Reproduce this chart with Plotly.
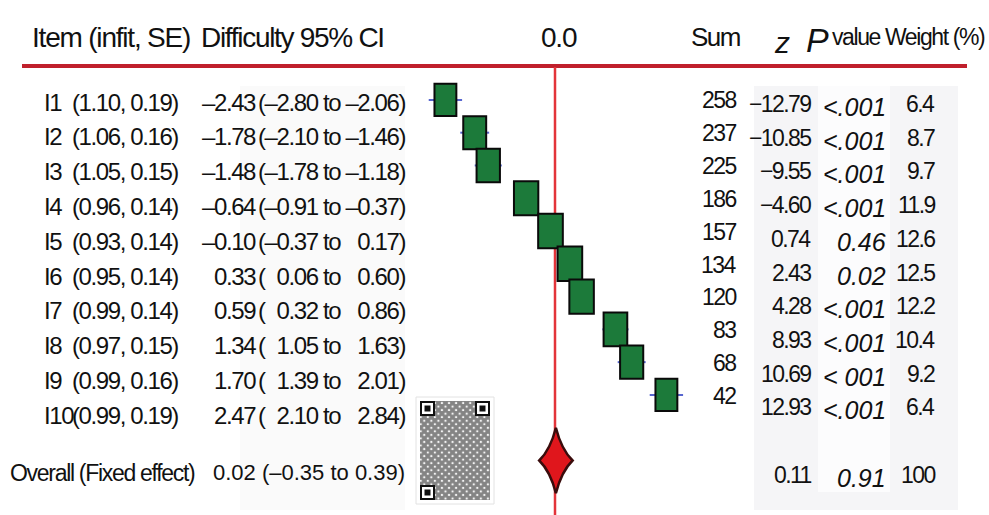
import plotly.graph_objects as go

# ---------------- data ----------------
items = ["I1", "I2", "I3", "I4", "I5", "I6", "I7", "I8", "I9", "I10"]
infit = ["1.10", "1.06", "1.05", "0.96", "0.93", "0.95", "0.99", "0.97", "0.99", "0.99"]
se = ["0.19", "0.16", "0.15", "0.14", "0.14", "0.14", "0.14", "0.15", "0.16", "0.19"]
difficulty = [-2.43, -1.78, -1.48, -0.64, -0.10, 0.33, 0.59, 1.34, 1.70, 2.47]
ci_low = [-2.80, -2.10, -1.78, -0.91, -0.37, 0.06, 0.32, 1.05, 1.39, 2.10]
ci_high = [-2.06, -1.46, -1.18, -0.37, 0.17, 0.60, 0.86, 1.63, 2.01, 2.84]
sums = [258, 237, 225, 186, 157, 134, 120, 83, 68, 42]
z_values = [-12.79, -10.85, -9.55, -4.60, 0.74, 2.43, 4.28, 8.93, 10.69, 12.93]
p_labels = ["<.001", "<.001", "<.001", "<.001", "0.46", "0.02", "<.001", "<.001", "< 001", "<.001"]
weights = [6.4, 8.7, 9.7, 11.9, 12.6, 12.5, 12.2, 10.4, 9.2, 6.4]

overall_label = "Overall (Fixed effect)"
overall_est, overall_low, overall_high = 0.02, -0.35, 0.39
overall_z = 0.11
overall_p = "0.91"
overall_weight = 100

# ---------------- layout constants ----------------
W, H = 989, 515
SANS = "Liberation Sans, Arial, sans-serif"
INK = "#111111"
RED_RULE = "#c0202c"
RED_ZERO = "#e3343a"
GREEN = "#1c7a3a"
WHISKER = "#5766cf"
FIG_SPACE = "\u2007"     # digit-wide space keeps the CI columns aligned

PX_PER_UNIT = 45.1      # pixels per logit on the difficulty axis
ZERO_PX = 555           # pixel column of difficulty 0.0
ROW_PX = 32.78          # pixel height of one row of the plot panel
FIRST_ROW_PX = 99.9


def px(x):
    return x / W


def py(y):
    return 1 - y / H


def rows_axis(first_px, step):
    """Reversed axis range so row 0 sits at first_px and rows advance by step pixels."""
    return [(H - first_px) / step, -first_px / step]


def dash(v, sign="\u2013"):
    return f"{v:.2f}".replace("-", sign)


def padded(v):
    s = dash(v)
    return s if v < 0 else FIG_SPACE + s


n = len(items)
overall_row = 11         # overall estimate sits one blank row below the items

fig = go.Figure()

# invisible traces so every helper axis exists
for ya in ["y", "y2", "y3", "y4"]:
    fig.add_trace(go.Scatter(x=[None], y=[None], yaxis=ya, xaxis="x",
                             showlegend=False, hoverinfo="skip"))

# QR-style code block (texture on a pixel-space axis pair)
qr_x0, qr_x1, qr_y0, qr_y1 = 420, 490, 401, 500
fig.add_trace(go.Scatter(
    x=[qr_x0, qr_x1, qr_x1, qr_x0, qr_x0], y=[qr_y0, qr_y0, qr_y1, qr_y1, qr_y0],
    xaxis="x2", yaxis="y5", mode="lines", line=dict(width=0),
    fill="toself", fillcolor="white",
    fillpattern=dict(shape="x", fgcolor="#0a0a0a", bgcolor="white", size=5, solidity=0.85),
    showlegend=False, hoverinfo="skip"))

shapes = []

# faint table panels
shapes.append(dict(type="rect", xref="paper", yref="paper", layer="below",
                   x0=px(754), x1=px(958), y0=py(510), y1=py(86),
                   fillcolor="#f5f5f7", line=dict(width=0)))
shapes.append(dict(type="rect", xref="paper", yref="paper", layer="below",
                   x0=px(818), x1=px(890), y0=py(492), y1=py(86),
                   fillcolor="#fcfcfd", line=dict(width=0)))
shapes.append(dict(type="rect", xref="paper", yref="paper", layer="below",
                   x0=px(240), x1=px(405), y0=py(510), y1=py(86),
                   fillcolor="#fafafa", line=dict(width=0)))

# header rule and zero line
shapes.append(dict(type="line", xref="paper", yref="paper",
                   x0=px(22), x1=px(967), y0=py(66), y1=py(66),
                   line=dict(color=RED_RULE, width=4)))
shapes.append(dict(type="line", xref="x", yref="paper", x0=0, x1=0,
                   y0=0, y1=py(67), line=dict(color=RED_ZERO, width=2.5)))

# confidence-interval whiskers
for i in range(n):
    shapes.append(dict(type="line", xref="x", yref="y",
                       x0=ci_low[i], x1=ci_high[i], y0=i, y1=i,
                       line=dict(color=WHISKER, width=2)))

# item boxes, lightly scaled by weight
for i in range(n):
    hw = (19 + 0.45 * weights[i]) / 2 / PX_PER_UNIT
    hh = (30 + 0.35 * weights[i]) / 2 / ROW_PX
    shapes.append(dict(type="rect", xref="x", yref="y",
                       x0=difficulty[i] - hw, x1=difficulty[i] + hw,
                       y0=i - hh, y1=i + hh,
                       fillcolor=GREEN, line=dict(color="#0a0a0a", width=2)))

# pooled estimate: concave diamond spanning the CI
cx, cy, hh = overall_est, overall_row, 1.0
k = 0.33
path = (f"M {overall_low},{cy} "
        f"Q {cx - k * (cx - overall_low)},{cy - k * hh} {cx},{cy - hh} "
        f"Q {cx + k * (overall_high - cx)},{cy - k * hh} {overall_high},{cy} "
        f"Q {cx + k * (overall_high - cx)},{cy + k * hh} {cx},{cy + hh} "
        f"Q {cx - k * (cx - overall_low)},{cy + k * hh} {overall_low},{cy} Z")
shapes.append(dict(type="path", xref="x", yref="y", path=path,
                   fillcolor="#e0161c", line=dict(color="#3a0c0c", width=2.5)))

# finder squares of the code block
for fx, fy in [(qr_x0, qr_y0), (qr_x1 - 15, qr_y0), (qr_x0, qr_y1 - 15)]:
    shapes.append(dict(type="rect", xref="x2", yref="y5", x0=fx, x1=fx + 15, y0=fy, y1=fy + 15,
                       fillcolor="#111111", line=dict(width=0)))
    shapes.append(dict(type="rect", xref="x2", yref="y5", x0=fx + 2, x1=fx + 13, y0=fy + 2, y1=fy + 13,
                       fillcolor="white", line=dict(width=0)))
    shapes.append(dict(type="rect", xref="x2", yref="y5", x0=fx + 4.5, x1=fx + 10.5, y0=fy + 4.5, y1=fy + 10.5,
                       fillcolor="#111111", line=dict(width=0)))
shapes.append(dict(type="rect", xref="x2", yref="y5", layer="below",
                   x0=qr_x0 - 4, x1=qr_x1 + 4, y0=qr_y0 - 4, y1=qr_y1 + 4,
                   fillcolor="white", line=dict(color="#e2e2e2", width=1)))

annotations = []


def note(text, x, y, yref, xanchor="left", size=24, ls=-1.4, italic=False, yshift=0):
    body = f"<i>{text}</i>" if italic else text
    if ls:
        body = f'<span style="letter-spacing:{ls}px">{body}</span>'
    annotations.append(dict(
        text=body, x=px(x), xref="paper", y=y, yref=yref,
        xanchor=xanchor, yanchor="middle", showarrow=False, yshift=yshift,
        borderpad=0, font=dict(family=SANS, size=size, color=INK)))


# header
hy = py(37)
note("Item (infit, SE)", 31, hy, "paper", size=28, ls=-1.2)
note("Difficulty 95% CI", 200, hy, "paper", size=28, ls=-1.3)
note("0.0", 559, hy, "paper", xanchor="center", size=28, ls=-1.2)
note("Sum", 741, hy, "paper", xanchor="right", size=26, ls=-1.5)
note("z", 773, py(42), "paper", size=30, ls=0, italic=True)
note("P", 805, py(40), "paper", size=34, ls=0, italic=True)
note("value Weight (%)", 831, hy, "paper", size=23, ls=-1.4)

# left-hand table (own row spacing on y2)
for i in range(n):
    note(items[i], 43, i, "y2")
    note(f"({infit[i]}, {se[i]})", 71, i, "y2")
    note(dash(difficulty[i]), 257, i, "y2", xanchor="right")
    note(f"({padded(ci_low[i])} to {padded(ci_high[i])})", 406, i, "y2", xanchor="right")
note(overall_label, 9, 10.65, "y2", size=23, ls=-1.3)
note(f"{overall_est:.2f} ({dash(overall_low)} to {overall_high:.2f})", 212, 10.65, "y2",
     size=22, ls=0)

# right-hand table
for i in range(n):
    note(str(sums[i]), 737, i, "y3", xanchor="right", size=23, ls=-1.6)
    note(dash(z_values[i], "\u2212"), 812, i, "y4", xanchor="right", size=23, ls=-1.6)
    note(p_labels[i], 887, i, "y4", xanchor="right", size=25, ls=0, italic=True, yshift=-3)
    note(f"{weights[i]:.1f}", 936, i, "y4", xanchor="right", size=23, ls=-1.6)
note(f"{overall_z:.2f}", 812, overall_row, "y4", xanchor="right", size=23, ls=-1.6)
note(overall_p, 887, overall_row, "y4", xanchor="right", size=25, ls=0, italic=True, yshift=-3)
note(str(overall_weight), 936, overall_row, "y4", xanchor="right", size=23, ls=-1.6)

hidden = dict(visible=False, showgrid=False, zeroline=False, fixedrange=True)

fig.update_layout(
    width=W, height=H,
    margin=dict(l=0, r=0, t=0, b=0),
    paper_bgcolor="white", plot_bgcolor="white",
    showlegend=False,
    xaxis=dict(range=[-ZERO_PX / PX_PER_UNIT, (W - ZERO_PX) / PX_PER_UNIT], domain=[0, 1], **hidden),
    xaxis2=dict(range=[0, W], overlaying="x", domain=[0, 1], **hidden),
    yaxis=dict(range=rows_axis(FIRST_ROW_PX, ROW_PX), domain=[0, 1], **hidden),
    yaxis2=dict(range=rows_axis(102, 34.8), overlaying="y", **hidden),
    yaxis3=dict(range=rows_axis(100, 32.9), overlaying="y", **hidden),
    yaxis4=dict(range=rows_axis(104, 33.7), overlaying="y", **hidden),
    yaxis5=dict(range=[H, 0], overlaying="y", **hidden),
    shapes=shapes,
    annotations=annotations,
)

fig.write_html("out.html", config=dict(displayModeBar=False))
